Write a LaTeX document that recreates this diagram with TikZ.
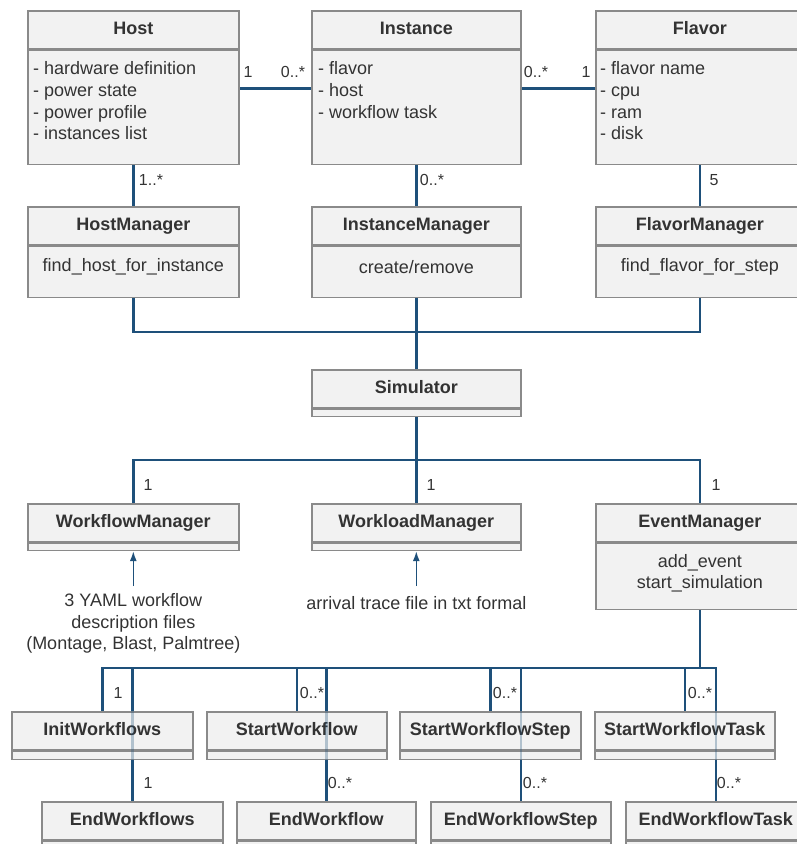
\documentclass[tikz,border=0pt]{standalone}
\usepackage{fontspec}
\setmainfont{Liberation Sans}
\usepackage{tikz}
\usetikzlibrary{arrows.meta,backgrounds}
\definecolor{umlline}{RGB}{30,80,122}
\definecolor{umlfill}{RGB}{242,242,242}
\definecolor{umlborder}{RGB}{138,138,138}
\definecolor{umltext}{RGB}{51,51,51}

\begin{document}
\begin{tikzpicture}[x=1pt,y=-1pt,
  cname/.style={draw=umlborder, line width=1.6pt, fill=umlfill,
    text=umltext, font=\fontsize{18}{21.6}\selectfont\bfseries,
    minimum height=38pt, inner sep=0pt, text height=13pt, text depth=4pt, anchor=north west},
  cbody/.style={draw=umlborder, line width=1.6pt, fill=umlfill, inner sep=0pt, anchor=north},
  ctext/.style={text=umltext, font=\fontsize{18}{21.6}\selectfont, inner sep=0pt},
  mult/.style={text=umltext, font=\fontsize{16}{19}\selectfont, inner sep=0pt},
  assoc/.style={draw=umlline, line width=2.4pt},
  behind/.style={draw=umlline, line width=2.4pt, draw opacity=0.3},
  feed/.style={draw=umlline, line width=1.4pt, -{Latex[length=10pt,width=7pt]}}]
\useasboundingbox (0,0) rectangle (796,844);

% domain classes
\node[cname, minimum width=211pt] (host) at (27,10) {Host};
\node[cbody, minimum width=211pt, minimum height=114pt] (host-b) at (host.south) {};
\node[cname, minimum width=209pt] (inst) at (311,10) {Instance};
\node[cbody, minimum width=209pt, minimum height=114pt] (inst-b) at (inst.south) {};
\node[cname, minimum width=208pt] (flav) at (595,10) {Flavor};
\node[cbody, minimum width=208pt, minimum height=114pt] (flav-b) at (flav.south) {};
\node[ctext, anchor=north west, align=left] (host-a) at ([xshift=6pt,yshift=-12pt]host-b.north west)
  {- hardware definition\\- power state\\- power profile\\- instances list};
\node[ctext, anchor=north west, align=left] (inst-a) at ([xshift=7pt,yshift=-12pt]inst-b.north west)
  {- flavor\\- host\\- workflow task};
\node[ctext, anchor=north west, align=left] (flav-a) at ([xshift=5pt,yshift=-12pt]flav-b.north west)
  {- flavor name\\- cpu\\- ram\\- disk};

% managers
\node[cname, minimum width=211pt] (hostm) at (27,206) {HostManager};
\node[cbody, minimum width=211pt, minimum height=51pt] (hostm-b) at (hostm.south) {};
\node[cname, minimum width=209pt] (instm) at (311,206) {InstanceManager};
\node[cbody, minimum width=209pt, minimum height=51pt] (instm-b) at (instm.south) {};
\node[cname, minimum width=208pt] (flavm) at (595,206) {FlavorManager};
\node[cbody, minimum width=208pt, minimum height=51pt] (flavm-b) at (flavm.south) {};
\node[ctext] (hostm-a) at ([yshift=5pt]hostm-b.center) {find\_host\_for\_instance};
\node[ctext] (instm-a) at ([yshift=5pt]instm-b.center) {create/remove};
\node[ctext] (flavm-a) at ([yshift=5pt]flavm-b.center) {find\_flavor\_for\_step};

\node[cname, minimum width=209pt] (sim) at (311,369) {Simulator};
\node[cbody, minimum width=209pt, minimum height=7pt] (sim-b) at (sim.south) {};

\node[cname, minimum width=211pt] (wfm) at (27,503) {WorkflowManager};
\node[cbody, minimum width=211pt, minimum height=7pt] (wfm-b) at (wfm.south) {};
\node[cname, minimum width=209pt] (wlm) at (311,503) {WorkloadManager};
\node[cbody, minimum width=209pt, minimum height=7pt] (wlm-b) at (wlm.south) {};
\node[cname, minimum width=208pt] (evm) at (595,503) {EventManager};
\node[cbody, minimum width=208pt, minimum height=66pt] (evm-b) at (evm.south) {};
\node[ctext, align=center] (evm-a) at ([yshift=3pt]evm-b.center) {add\_event\\start\_simulation};

\node[ctext, align=center, anchor=north] (yaml) at ([yshift=-42pt]wfm-b.south)
  {3 YAML workflow\\description files\\(Montage, Blast, Palmtree)};
\node[ctext, anchor=north] (trace) at ([yshift=-45pt]wlm-b.south) {arrival trace file in txt formal};

% events
\node[cname, minimum width=181pt] (init) at (11,711) {InitWorkflows};
\node[cbody, minimum width=181pt, minimum height=8pt] (init-b) at (init.south) {};
\node[cname, minimum width=180pt] (startwf) at (206,711) {StartWorkflow};
\node[cbody, minimum width=180pt, minimum height=8pt] (startwf-b) at (startwf.south) {};
\node[cname, minimum width=181pt] (startstep) at (399,711) {StartWorkflowStep};
\node[cbody, minimum width=181pt, minimum height=8pt] (startstep-b) at (startstep.south) {};
\node[cname, minimum width=180pt] (starttask) at (594,711) {StartWorkflowTask};
\node[cbody, minimum width=180pt, minimum height=8pt] (starttask-b) at (starttask.south) {};

\node[cname, minimum width=181pt] (endwfs) at (41,801) {EndWorkflows};
\node[cbody, minimum width=181pt, minimum height=8pt] (endwfs-b) at (endwfs.south) {};
\node[cname, minimum width=179pt] (endwf) at (236,801) {EndWorkflow};
\node[cbody, minimum width=179pt, minimum height=8pt] (endwf-b) at (endwf.south) {};
\node[cname, minimum width=180pt] (endstep) at (430,801) {EndWorkflowStep};
\node[cbody, minimum width=180pt, minimum height=8pt] (endstep-b) at (endstep.south) {};
\node[cname, minimum width=180pt] (endtask) at (625,801) {EndWorkflowTask};
\node[cbody, minimum width=180pt, minimum height=8pt] (endtask-b) at (endtask.south) {};

\coordinate (bus1) at (0,332);
\coordinate (bus2) at (0,460);
\coordinate (bus3) at (0,668);

\begin{pgfonlayer}{background}
\draw[assoc] ([yshift=-39pt]host-b.north east) -- ([yshift=-39pt]inst-b.north west);
\draw[assoc] ([yshift=-39pt]inst-b.north east) -- ([yshift=-39pt]flav-b.north west);
\draw[assoc] (host-b.south) -- (hostm.north);
\draw[assoc] (inst-b.south) -- (instm.north);
\draw[assoc] (flav-b.south) -- (flavm.north);
\draw[assoc] (hostm-b.south) |- (bus1 -| flavm-b.south) -- (flavm-b.south);
\draw[assoc] (instm-b.south) -- (sim.north);
\draw[assoc] (sim-b.south) -- (sim-b.south |- bus2);
\draw[assoc] (wfm.north) |- (bus2 -| evm.north) -- (evm.north);
\draw[assoc] (wlm.north) -- (wlm.north |- bus2);
\draw[assoc] (evm-b.south) -- (evm-b.south |- bus3);
\draw[assoc] (init.north) |- (bus3 -| endtask.north) -- (endtask.north);
\draw[assoc] (startwf.north |- bus3) -- (startwf.north);
\draw[assoc] (startstep.north |- bus3) -- (startstep.north);
\draw[assoc] (starttask.north |- bus3) -- (starttask.north);
\draw[assoc] (endwfs.north |- bus3) -- (endwfs.north);
\draw[assoc] (endwf.north |- bus3) -- (endwf.north);
\draw[assoc] (endstep.north |- bus3) -- (endstep.north);
\end{pgfonlayer}
% lines seen through the start boxes
\draw[behind] (endwfs.north |- init.north) -- (endwfs.north |- init-b.south);
\draw[behind] (endwf.north |- startwf.north) -- (endwf.north |- startwf-b.south);
\draw[behind] (endstep.north |- startstep.north) -- (endstep.north |- startstep-b.south);
\draw[behind] (endtask.north |- starttask.north) -- (endtask.north |- starttask-b.south);

\draw[feed] ([yshift=7pt]yaml.north) -- (wfm-b.south);
\draw[feed] ([yshift=10pt]trace.north) -- (wlm-b.south);

% multiplicities
\node[mult] (m1) at (248,72) {1};
\node[mult] (m2) at (293,72) {0..*};
\node[mult] (m3) at (536,72) {0..*};
\node[mult] (m4) at (586,72) {1};
\node[mult] (m5) at (151,180) {1..*};
\node[mult] (m6) at (432,180) {0..*};
\node[mult] (m7) at (714,180) {5};
\node[mult] (m8) at (148,485) {1};
\node[mult] (m9) at (431,485) {1};
\node[mult] (m10) at (716,485) {1};
\node[mult] (m11) at (118,693) {1};
\node[mult] (m12) at (312,693) {0..*};
\node[mult] (m13) at (505,693) {0..*};
\node[mult] (m14) at (700,693) {0..*};
\node[mult] (m15) at (148,783) {1};
\node[mult] (m16) at (340,783) {0..*};
\node[mult] (m17) at (535,783) {0..*};
\node[mult] (m18) at (729,783) {0..*};
\end{tikzpicture}
\end{document}
